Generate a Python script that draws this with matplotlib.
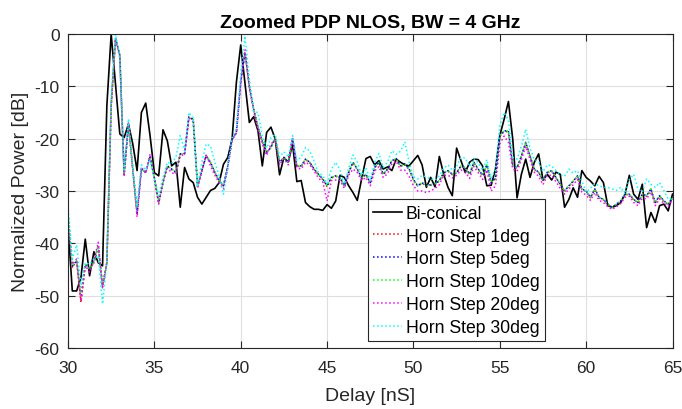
import numpy as np
import matplotlib
matplotlib.use("Agg")
import matplotlib.pyplot as plt

plt.rcParams['font.family'] = ['Liberation Sans', 'DejaVu Sans']
plt.rcParams['axes.unicode_minus'] = False

# delay grid, 0.25 ns resolution (BW = 4 GHz)
delay = np.arange(141) * 0.25 + 30

biconical = [-36.6, -49.1, -49.1, -46.5, -39.2, -46.2, -41.6, -43.7, -44.3, -13.7,
             0.0, -9.5, -19.1, -19.8, -17.2, -21.0, -26.1, -15.0, -13.2, -19.4,
             -26.5, -27.1, -18.3, -20.4, -25.2, -24.5, -33.1, -25.5, -27.7, -28.4,
             -31.2, -32.5, -31.2, -29.9, -29.5, -28.4, -24.9, -23.6, -20.1, -9.2,
             -2.1, -9.5, -16.9, -15.8, -18.5, -25.2, -18.8, -17.8, -20.1, -26.9,
             -23.6, -24.5, -21.0, -28.2, -28.0, -32.2, -33.0, -33.5, -33.5, -33.7,
             -32.6, -33.3, -31.9, -27.0, -27.4, -29.0, -30.3, -31.8, -27.7, -23.8,
             -23.4, -25.0, -24.2, -25.8, -25.4, -26.1, -23.9, -24.5, -25.0, -25.2,
             -24.2, -23.2, -25.0, -29.3, -27.4, -29.2, -23.4, -26.8, -29.3, -30.9,
             -21.8, -24.2, -26.5, -24.5, -23.9, -24.0, -25.2, -29.0, -28.9, -25.8,
             -19.4, -16.3, -12.9, -20.1, -31.3, -26.8, -23.9, -27.4, -24.5, -22.9,
             -27.9, -26.8, -27.9, -26.4, -26.8, -33.1, -31.6, -29.4, -31.2, -26.1,
             -27.4, -28.1, -29.0, -27.2, -28.4, -32.8, -33.1, -32.8, -32.2, -30.6,
             -27.0, -30.6, -31.6, -28.7, -37.0, -34.1, -36.0, -32.8, -32.5, -33.8,
             -30.6]

horn_1 = [-34.3, -44.6, -43.4, -51.3, -44.1, -45.0, -43.6, -40.4, -48.3, -43.8,
          -13.8, -0.9, -4.1, -26.9, -17.2, -25.9, -34.3, -25.7, -26.5, -23.4,
          -27.5, -32.3, -28.3, -25.3, -25.9, -26.5, -23.0, -22.8, -15.8, -16.4,
          -29.1, -26.0, -23.2, -24.6, -26.5, -28.1, -29.1, -25.3, -20.0, -18.9,
          -9.1, -3.6, -10.1, -14.4, -17.9, -20.6, -22.7, -21.6, -19.9, -24.6,
          -23.5, -24.6, -20.0, -25.3, -25.3, -24.0, -24.6, -25.9, -26.9, -27.8,
          -29.2, -27.5, -27.2, -27.5, -29.1, -26.5, -24.6, -25.9, -27.6, -26.9,
          -28.5, -25.6, -24.6, -26.9, -25.9, -24.3, -23.9, -25.3, -24.9, -25.9,
          -27.9, -29.1, -28.5, -29.1, -28.9, -28.7, -28.1, -26.6, -26.2, -26.9,
          -26.6, -25.3, -25.6, -26.9, -24.6, -25.9, -27.1, -25.1, -28.5, -27.6,
          -19.6, -18.6, -18.7, -25.3, -25.6, -23.4, -20.8, -23.4, -25.9, -26.5,
          -28.1, -26.5, -26.2, -27.5, -28.8, -30.1, -29.1, -28.2, -27.2, -29.7,
          -30.1, -31.3, -29.7, -31.3, -31.7, -32.6, -33.2, -32.6, -32.0, -30.7,
          -30.7, -31.7, -32.3, -30.7, -31.0, -29.7, -32.3, -31.0, -32.0, -32.6,
          -31.3]

horn_5 = [-34.4, -44.4, -43.3, -50.6, -44.0, -44.9, -43.7, -40.5, -48.2, -43.7,
          -13.7, -0.8, -4.0, -26.8, -17.3, -25.8, -34.2, -25.8, -26.4, -23.5,
          -27.4, -32.2, -28.4, -25.2, -25.8, -26.4, -22.9, -22.9, -15.9, -16.3,
          -29.0, -26.1, -23.3, -24.5, -26.4, -28.0, -29.0, -25.2, -20.1, -18.8,
          -9.0, -3.5, -10.0, -14.3, -17.8, -20.5, -22.6, -21.7, -19.8, -24.5,
          -23.6, -24.5, -20.1, -25.2, -25.2, -23.9, -24.5, -25.8, -26.8, -27.7,
          -29.0, -27.4, -27.1, -27.4, -29.0, -26.4, -24.5, -25.8, -27.5, -26.8,
          -28.4, -25.5, -24.5, -26.8, -25.8, -24.2, -23.8, -25.2, -24.8, -25.8,
          -27.8, -29.0, -28.4, -29.0, -28.8, -28.6, -28.0, -26.5, -26.1, -26.8,
          -26.5, -25.2, -25.5, -26.8, -24.5, -25.8, -27.0, -25.0, -28.4, -27.5,
          -19.4, -18.5, -18.5, -25.2, -25.5, -23.3, -20.7, -23.3, -25.8, -26.4,
          -28.0, -26.4, -26.1, -27.4, -28.7, -30.0, -29.0, -28.1, -27.1, -29.6,
          -30.0, -31.2, -29.6, -31.2, -31.6, -32.5, -33.1, -32.5, -31.9, -30.6,
          -30.6, -31.6, -32.2, -30.6, -30.9, -29.6, -32.2, -30.9, -31.9, -32.5,
          -31.2]

horn_10 = [-34.5, -44.3, -43.3, -50.0, -44.0, -44.9, -43.7, -40.5, -48.1, -43.7,
           -13.7, -0.8, -4.0, -26.8, -17.3, -25.8, -34.1, -25.8, -26.4, -23.5,
           -27.4, -32.2, -28.4, -25.2, -25.8, -26.4, -22.9, -22.9, -15.9, -16.3,
           -29.0, -26.1, -23.3, -24.5, -26.4, -28.0, -29.0, -25.2, -20.1, -18.8,
           -9.0, -3.5, -10.0, -14.3, -17.8, -20.5, -22.6, -21.7, -19.8, -24.5,
           -23.6, -24.5, -20.1, -25.2, -25.2, -23.9, -24.5, -25.8, -26.8, -27.7,
           -29.0, -27.4, -27.1, -27.4, -29.0, -26.4, -24.5, -25.8, -27.5, -26.8,
           -28.4, -25.5, -24.5, -26.8, -25.8, -24.2, -23.8, -25.2, -24.8, -25.8,
           -27.8, -29.0, -28.4, -29.0, -28.8, -28.6, -28.0, -26.5, -26.1, -26.8,
           -26.5, -25.2, -25.5, -26.8, -24.5, -25.8, -27.0, -25.0, -28.4, -27.5,
           -19.4, -18.5, -18.5, -25.2, -25.5, -23.3, -20.7, -23.3, -25.8, -26.4,
           -28.0, -26.4, -26.1, -27.4, -28.7, -30.0, -29.0, -28.1, -27.1, -29.6,
           -30.0, -31.2, -29.6, -31.2, -31.6, -32.5, -33.1, -32.5, -31.9, -30.6,
           -30.6, -31.6, -32.2, -30.6, -30.9, -29.6, -32.2, -30.9, -31.9, -32.5,
           -31.2]

horn_20 = [-35.0, -44.0, -43.0, -51.0, -44.3, -45.5, -43.3, -39.8, -48.5, -43.5,
           -13.5, -1.0, -4.5, -27.2, -17.0, -26.0, -35.0, -25.5, -26.6, -22.9,
           -27.8, -32.5, -28.0, -25.6, -26.5, -26.8, -23.3, -23.0, -16.0, -16.8,
           -29.5, -26.3, -23.0, -25.2, -27.0, -28.4, -29.6, -25.6, -20.3, -18.9,
           -9.3, -3.0, -10.5, -14.8, -18.2, -21.0, -23.2, -21.0, -20.3, -25.0,
           -23.8, -25.0, -19.8, -25.6, -25.8, -24.5, -25.0, -26.2, -27.5, -28.3,
           -31.9, -28.0, -27.9, -28.0, -29.5, -27.0, -25.8, -26.5, -28.0, -27.4,
           -29.0, -26.2, -25.3, -27.4, -26.7, -24.8, -24.3, -26.0, -26.0, -27.2,
           -29.0, -30.0, -30.0, -30.3, -30.0, -29.5, -28.8, -27.0, -27.0, -27.5,
           -27.0, -26.0, -26.4, -27.6, -25.3, -26.5, -27.8, -26.0, -30.0, -29.0,
           -21.0, -19.5, -20.7, -25.8, -26.2, -24.0, -21.5, -24.0, -26.4, -27.2,
           -28.8, -27.0, -27.0, -28.2, -29.5, -30.6, -29.6, -28.8, -27.8, -30.2,
           -30.8, -31.8, -30.3, -31.8, -32.2, -33.0, -33.5, -33.0, -32.4, -31.2,
           -31.0, -32.2, -32.8, -31.4, -31.5, -30.2, -32.8, -31.5, -32.4, -33.0,
           -31.6]

horn_30 = [-32.8, -43.0, -40.3, -48.0, -43.7, -44.0, -43.0, -42.4, -51.6, -43.7,
           -11.8, 0.0, -4.5, -26.0, -16.2, -25.5, -33.0, -25.0, -26.0, -24.2,
           -27.8, -30.9, -27.4, -24.5, -24.8, -23.5, -19.4, -22.3, -15.0, -16.0,
           -29.3, -24.5, -21.0, -21.4, -24.5, -27.1, -30.6, -25.8, -19.8, -18.2,
           -7.5, -0.4, -8.5, -14.8, -15.0, -19.5, -21.8, -19.8, -19.2, -23.5,
           -22.5, -23.5, -19.4, -24.2, -23.5, -21.7, -22.4, -24.3, -26.5, -27.0,
           -28.6, -25.8, -24.5, -26.0, -28.7, -25.6, -23.1, -24.5, -27.0, -25.5,
           -28.0, -24.5, -22.8, -25.5, -24.5, -22.3, -23.0, -22.4, -20.6, -24.5,
           -27.3, -27.7, -27.0, -27.3, -27.7, -27.9, -27.1, -25.7, -25.0, -26.0,
           -25.3, -23.6, -23.7, -25.3, -23.8, -24.6, -26.0, -24.0, -27.5, -26.0,
           -17.5, -15.0, -16.5, -23.5, -23.9, -21.5, -18.2, -21.8, -24.0, -24.3,
           -26.3, -25.0, -25.2, -26.1, -26.9, -27.2, -25.8, -26.6, -26.1, -28.1,
           -30.2, -29.5, -28.6, -29.0, -29.3, -29.3, -29.6, -29.9, -29.3, -30.6,
           -27.8, -26.8, -29.6, -30.2, -27.7, -28.7, -29.3, -28.4, -29.9, -31.6,
           -31.2]

labels = ['Bi-conical', 'Horn Step 1deg', 'Horn Step 5deg', 'Horn Step 10deg',
          'Horn Step 20deg', 'Horn Step 30deg']
horn_series = [horn_1, horn_5, horn_10, horn_20, horn_30]
horn_colors = ['#ff0000', '#0000ff', '#00ff00', '#ff00ff', '#00ffff']

axis_col = '#262626'

fig = plt.figure(figsize=(6.82, 4.10), dpi=100)
ax = fig.add_axes([0.0997, 0.1488, 0.8864, 0.7658])

ax.plot(delay, biconical, color='black', lw=1.2, label=labels[0])
for vals, col, lab in zip(horn_series, horn_colors, labels[1:]):
    ax.plot(delay, vals, color=col, lw=1.1, ls=':', label=lab)

ax.set_xlim(30, 65)
ax.set_ylim(-60, 0)
ax.set_xticks(range(30, 66, 5))
ax.set_yticks(range(-60, 1, 10))
ax.grid(True, color='#dfdfdf', lw=0.8)
ax.set_axisbelow(True)

for sp in ax.spines.values():
    sp.set_color(axis_col)
    sp.set_linewidth(0.8)
ax.tick_params(direction='in', top=True, right=True, length=5, width=0.8,
               color=axis_col, labelcolor=axis_col, labelsize=12.5)
ax.tick_params(axis='x', pad=9)
ax.tick_params(axis='y', pad=6)

ax.set_xlabel('Delay [nS]', fontsize=14, color=axis_col, labelpad=8)
ax.set_ylabel('Normalized Power [dB]', fontsize=14, color=axis_col, labelpad=4)
ax.set_title('Zoomed PDP NLOS, BW = 4 GHz', fontsize=14, fontweight='bold',
             color='black', pad=5)

# legend box sits inside the axes, lower middle-right
leg = ax.legend(loc='lower right', bbox_to_anchor=(0.789, 0.022), fontsize=12.7,
                frameon=True, fancybox=False, edgecolor=axis_col, framealpha=1,
                handlelength=1.6, handletextpad=0.25, labelspacing=0.33,
                borderpad=0.3, borderaxespad=0)
leg.get_frame().set_linewidth(0.8)

fig.savefig('out.png', dpi=100)
